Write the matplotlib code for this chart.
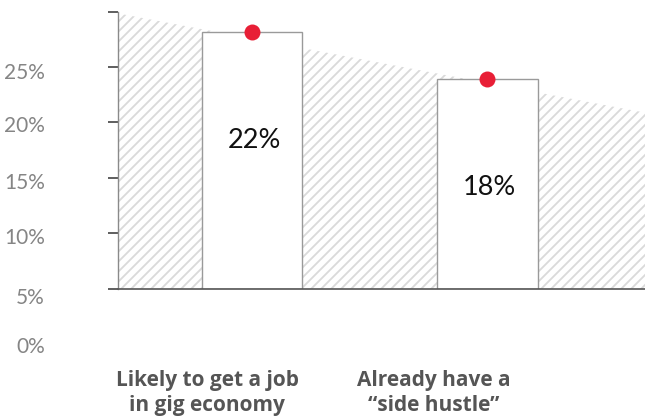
import matplotlib
matplotlib.use("Agg")
import matplotlib.pyplot as plt

# values
categories = ["Likely to get a job\nin gig economy", "Already have a\n\u201cside hustle\u201d"]
values = [22, 18]
value_labels = ["22%", "18%"]
trend_y = [23.6, 15.1]          # hatched band, left edge -> right edge
tick_pos = [0, 4.79, 9.48, 14.27, 19.0, 23.7]
label_pos = [-4.97, -0.77, 4.37, 9.08, 13.95, 18.5]
tick_text = ["0%", "5%", "10%", "15%", "20%", "25%"]
cat_shift = [-0.19, -0.227]

# low dpi so the hatch comes out ~10px apart; S rescales point sizes
DPI = 60
S = 100 / DPI

plt.rcParams["font.family"] = ["Lato", "DejaVu Sans"]
plt.rcParams["hatch.color"] = "#dadada"
plt.rcParams["hatch.linewidth"] = 1.3 * S

W, H = 645, 417
fig = plt.figure(figsize=(W / DPI, H / DPI), dpi=DPI)
ax = fig.add_axes([118 / W, (H - 289) / H, 527 / W, 289 / H])

x = list(range(len(values)))
xlim = (-0.569, 1.669)
ax.set_xlim(*xlim)
ax.set_ylim(0, 289 / 11.68)

# hatched trend band
ax.fill_between(list(xlim), [0, 0], trend_y, facecolor="none",
                edgecolor="#dadada", hatch="//", linewidth=0, zorder=1)

ax.bar(x, values, width=0.425, color="white", edgecolor="#9a9a9a",
       linewidth=1.0 * S, zorder=2)
ax.plot(x, values, "o", color="#e81f36", markersize=11.5 * S,
        markeredgewidth=0, zorder=3, clip_on=False)

for xi, v, lab in zip(x, values, value_labels):
    ax.text(xi + 0.01, v - 9.3, lab, ha="center", va="center",
            fontsize=19.5 * S, color="#111111", zorder=4)

for xi, cat, dx in zip(x, categories, cat_shift):
    ax.text(xi + dx, -6.9, cat, ha="center", va="top", fontsize=15 * S,
            fontweight="bold", color="#555555", linespacing=1.3,
            family=["Open Sans", "DejaVu Sans"])

# axes styling
for s in ["top", "right"]:
    ax.spines[s].set_visible(False)
ax.spines["left"].set_color("#8a8a8a")
ax.spines["left"].set_linewidth(1.0 * S)
ax.spines["left"].set_bounds(0, tick_pos[-1])
ax.spines["bottom"].set_color("#555555")
ax.spines["bottom"].set_linewidth(1.2 * S)
ax.set_xticks([])
ax.set_yticks(tick_pos)
ax.set_yticklabels([])
ax.tick_params(axis="y", length=7 * S, width=1.1 * S, color="#333333",
               direction="out")
ax.yaxis.get_major_ticks()[-1].tick1line.set_color("#aaaaaa")

for p, t in zip(label_pos, tick_text):
    ax.text(-0.569 - 0.31, p, t, ha="right", va="center", fontsize=15 * S,
            color="#858585", clip_on=False)

fig.savefig("out.png", dpi=DPI)
